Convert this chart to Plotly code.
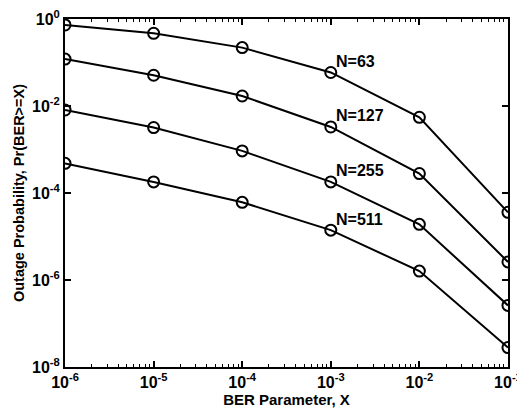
import math
import plotly.graph_objects as go

ber = [1e-6, 1e-5, 1e-4, 1e-3, 1e-2, 1e-1]
n63 = [0.73, 0.47, 0.22, 0.059, 0.0055, 3.6e-5]
n127 = [0.12, 0.051, 0.017, 0.0033, 2.8e-4, 2.6e-6]
n255 = [8.1e-3, 3.2e-3, 9.3e-4, 1.8e-4, 1.9e-5, 2.6e-7]
n511 = [4.8e-4, 1.8e-4, 6.1e-5, 1.4e-5, 1.6e-6, 2.8e-8]
series = [("N=63", n63), ("N=127", n127), ("N=255", n255), ("N=511", n511)]

x_exps = [-6, -5, -4, -3, -2, -1]
y_exps = [0, -2, -4, -6, -8]

FONT = "Liberation Sans, Arial, sans-serif"


def pow_label(e):
    return "<b>10<sup>%d</sup></b>" % e


x_minor = [m * 10.0 ** e for e in range(-6, -1) for m in range(2, 10)]

fig = go.Figure()
for name, vals in series:
    fig.add_trace(go.Scatter(
        x=ber, y=vals, mode="lines+markers", name=name,
        line=dict(color="black", width=2),
        marker=dict(symbol="circle-open", size=11, color="black", line=dict(width=2)),
        showlegend=False,
    ))
    fig.add_annotation(x=math.log10(ber[3]), y=math.log10(vals[3]), text="<b>%s</b>" % name,
                       showarrow=False, xanchor="left", yanchor="middle",
                       xshift=3, yshift=11, font=dict(family=FONT, size=16, color="black"))

fig.update_layout(
    width=517, height=413,
    margin=dict(l=65, r=9, t=19, b=46, autoexpand=False),
    paper_bgcolor="white", plot_bgcolor="white",
    font=dict(family=FONT, size=16, color="black"),
)
fig.update_xaxes(
    type="log", range=[-6.0005, -0.9995], automargin=False,
    tickmode="array", tickvals=[10.0 ** e for e in x_exps], ticktext=[pow_label(e) for e in x_exps],
    ticklabeloverflow="allow",
    showgrid=False, zeroline=False, showline=True, linecolor="black", linewidth=2,
    mirror="ticks", ticks="inside", ticklen=6, tickwidth=1.5, tickcolor="black",
    minor=dict(ticks="inside", ticklen=3, tickwidth=1.2, tickmode="array", tickvals=x_minor,
               tickcolor="black", showgrid=False),
    tickfont=dict(family=FONT, size=16, color="black"),
    title=dict(text="<b>BER Parameter, X</b>", font=dict(family=FONT, size=15), standoff=4),
)
fig.update_yaxes(
    type="log", range=[-8.0005, 0.0005], automargin=False,
    tickmode="array", tickvals=[10.0 ** e for e in y_exps], ticktext=[pow_label(e) for e in y_exps],
    ticklabeloverflow="allow",
    showgrid=False, zeroline=False, showline=True, linecolor="black", linewidth=2,
    mirror="ticks", ticks="inside", ticklen=6, tickwidth=1.5, tickcolor="black",
    tickfont=dict(family=FONT, size=16, color="black"),
    title=dict(text="<b>Outage Probability, Pr(BER>=X)</b>", font=dict(family=FONT, size=14.5), standoff=4),
)
fig.write_html("out.html")
